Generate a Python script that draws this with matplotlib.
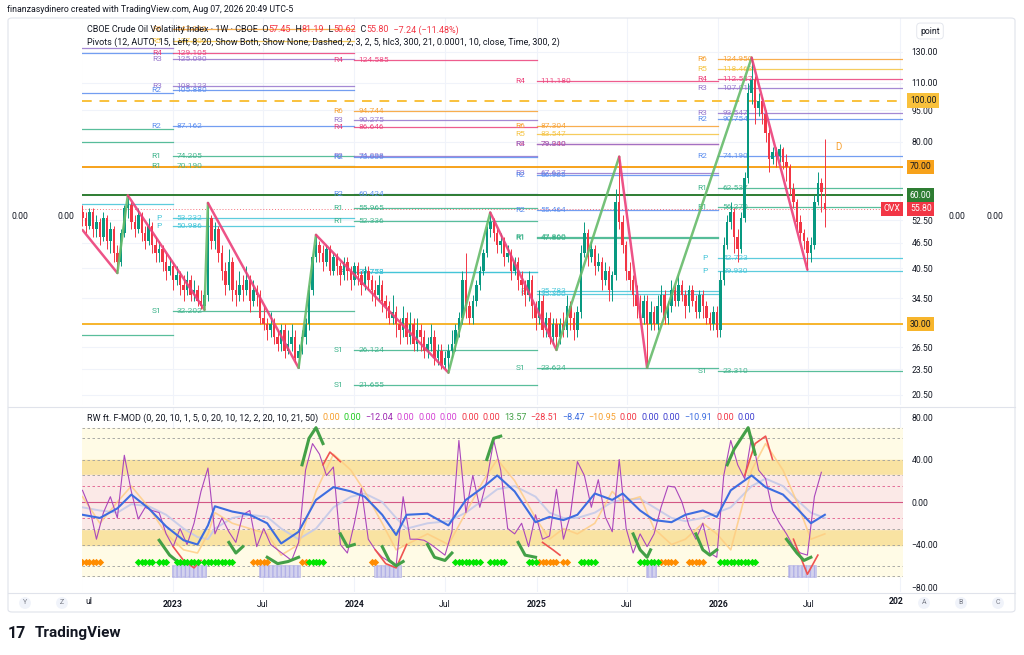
import numpy as np
import matplotlib
matplotlib.use("Agg")
import matplotlib.pyplot as plt
import matplotlib.dates as mdates
from matplotlib.patches import Rectangle, FancyBboxPatch
from matplotlib.lines import Line2D
from matplotlib.ticker import NullLocator

plt.rcParams['font.family'] = ['Roboto', 'DejaVu Sans']

# ---------------- data (weekly OVX candles, Jul 2022 -> Aug 2026) ----------------
start_date = '2022-07-04'

opens = [55, 53, 51, 55, 50, 52, 48, 53, 47, 50,
         44, 42, 49, 56, 57, 52, 50, 54, 49, 47,
         51, 46, 44, 45, 42, 40, 41, 38, 39, 37,
         36, 38, 35, 36, 34, 33, 35, 53, 47, 50,
         44, 40, 37, 42, 36, 35, 37, 36, 38, 34,
         36, 35, 31, 30, 29, 30, 28, 27, 29, 26,
         27, 28, 25, 26, 28, 30, 36, 43, 46, 44,
         42, 45, 40, 43, 41, 39, 42, 40, 38, 41,
         39, 37, 40, 38, 36, 35, 37, 34, 33, 31,
         32, 30, 29, 31, 28, 30, 27, 29, 28, 26,
         27, 28, 25, 26, 24, 25, 26, 27, 29, 31,
         38, 33, 31, 34, 37, 40, 44, 50, 52, 49,
         46, 47, 43, 44, 40, 42, 38, 37, 35, 38,
         33, 31, 34, 29, 31, 28, 30, 28, 30, 29,
         33, 31, 29, 32, 44, 49, 43, 45, 41, 42,
         38, 40, 36, 39, 58, 52, 46, 40, 38, 35,
         33, 31, 34, 30, 32, 30, 33, 35, 31, 33,
         36, 34, 37, 35, 33, 36, 34, 32, 35, 33,
         31, 30, 32, 29, 38, 46, 52, 55, 48, 45,
         53, 66, 104, 112, 96, 100, 93, 84, 73, 76,
         74, 77, 72, 70, 62, 58, 52, 49, 47, 44,
         46, 58, 64, 57.45]

closes = [53, 51, 55, 50, 52, 48, 53, 47, 50, 44,
          42, 49, 56, 57, 52, 50, 54, 49, 47, 51,
          46, 44, 45, 42, 40, 41, 38, 39, 37, 36,
          38, 35, 36, 34, 33, 35, 53, 47, 50, 44,
          40, 37, 42, 36, 35, 37, 36, 38, 34, 36,
          35, 31, 30, 29, 30, 28, 27, 29, 26, 27,
          28, 25, 26, 28, 30, 36, 43, 46, 44, 42,
          45, 40, 43, 41, 39, 42, 40, 38, 41, 39,
          37, 40, 38, 36, 35, 37, 34, 33, 31, 32,
          30, 29, 31, 28, 30, 27, 29, 28, 26, 27,
          28, 25, 26, 24, 25, 26, 27, 29, 31, 38,
          33, 31, 34, 37, 40, 44, 50, 52, 49, 46,
          47, 43, 44, 40, 42, 38, 37, 35, 38, 33,
          31, 34, 29, 31, 28, 30, 28, 30, 29, 33,
          31, 29, 32, 44, 49, 43, 45, 41, 42, 38,
          40, 36, 39, 58, 52, 46, 40, 38, 35, 33,
          31, 34, 30, 32, 30, 33, 35, 31, 33, 36,
          34, 37, 35, 33, 36, 34, 32, 35, 33, 31,
          30, 32, 29, 38, 46, 52, 55, 48, 45, 53,
          66, 104, 112, 96, 100, 93, 84, 73, 76, 74,
          77, 72, 70, 62, 58, 52, 49, 47, 44, 46,
          58, 64, 61, 55.80]

highs = [57, 55, 56, 56, 54, 53, 55, 54, 52, 51,
         46, 50, 57, 60, 58, 54, 56, 55, 51, 53,
         52, 48, 47, 46, 44, 43, 42, 41, 40, 39,
         40, 39, 38, 37, 36, 36, 57.6, 54, 52, 51,
         46, 42, 45, 43, 38, 40, 39, 41, 39, 38,
         37, 36, 33, 31, 32, 31, 29, 30, 30, 29,
         30, 29, 27, 29, 31, 37, 44, 48.5, 47, 46,
         46, 46, 44, 44, 42, 43, 43, 41, 42, 42,
         40, 41, 41, 39, 38, 39, 38, 35, 34, 35,
         33, 31, 33, 32, 32, 31, 31, 30, 29, 28,
         30, 29, 27, 27, 26, 27, 29, 30, 32, 40,
         44, 34, 35, 38, 41, 45, 51, 54.7, 53, 50,
         49, 48, 46, 45, 43, 43, 40, 38, 40, 39,
         34, 36, 35, 32, 32, 31, 31, 31, 32, 35,
         34, 32, 33, 46, 52, 50, 47, 46, 44, 43,
         42, 41, 40, 62, 73.9, 54, 47, 42, 39, 37,
         35, 35, 35, 34, 33, 35, 37, 36, 34, 38,
         37, 39, 38, 36, 37, 37, 35, 36, 36, 34,
         32, 33, 33, 40, 48, 54, 58, 56, 50, 55,
         68, 110, 126, 114, 104, 102, 95, 86, 78, 78,
         79, 78, 75, 71, 64, 59, 54, 50, 48, 48,
         60, 68, 66, 81.19]

lows = [51, 49, 50, 48, 48, 46, 47, 45, 44, 42,
        39.5, 41, 48, 53, 50, 48, 49, 47, 45, 46,
        44, 42, 42, 40, 38, 39, 36, 37, 35, 34,
        35, 34, 34, 33, 32.5, 32.4, 34, 45, 45, 42,
        38, 35, 36, 34, 33, 34, 34, 35, 32, 33,
        33, 30, 29, 27.5, 28, 27, 26, 26, 25, 25.5,
        26, 24.5, 23.7, 25.5, 27, 29, 35, 42, 42, 40,
        41, 39, 39, 39, 37, 38, 38, 36, 37, 37,
        35, 36, 36, 34, 33, 34, 32, 31, 30, 30,
        28, 27, 28, 27, 27, 26, 26, 26, 25, 25,
        26, 24, 24, 23.5, 23.5, 23.1, 25, 26, 28, 30,
        31, 30, 30, 33, 36, 39, 43, 48, 47, 44,
        44, 41, 42, 38, 39, 36, 35, 33, 34, 31,
        29, 30, 28, 28, 27, 27, 26.1, 27, 28, 28,
        29, 27.5, 28, 31, 43, 41, 42, 39, 40, 36,
        37, 34, 34, 38, 50, 44, 38, 36, 33, 31,
        30, 30, 23.7, 29, 29, 29, 32, 30, 30, 32,
        33, 33, 34, 31, 32, 33, 31, 31, 31, 30,
        29, 29, 28, 28, 37, 45, 50, 44, 42, 44,
        52, 64, 98, 88, 92, 88, 80, 68, 71, 70,
        72, 69, 65, 60, 56, 50, 47, 45, 40.2, 42,
        45, 57, 55, 50.62]

# zigzag swing points (week index, price)
zz_weeks = [0, 10, 13, 35, 36, 62, 67, 105, 117, 136, 154, 162, 192, 208]
zz_vals = [49.8, 39.5, 60.0, 32.4, 57.6, 23.7, 48.5, 23.1, 54.7, 26.1, 73.9, 23.7, 126.0, 40.2]

# pivot levels per yearly period
piv_colors = {'R6': '#f7a030', 'R5': '#f5c342', 'R4': '#ec407a', 'R3': '#9575cd',
              'R2': '#5b8def', 'R1': '#3cb38a', 'P': '#40c4d8', 'S1': '#3cb38a', 'S2': '#5b8def'}
periods = ['2022-07-01', '2023-01-01', '2024-01-01', '2025-01-01', '2026-01-01', '2027-01-08']
piv22_names = ['R3', 'R2', 'R2', 'R1', 'R1', 'P', 'S1']
piv22_vals = [132.7, 129.3, 103.9, 85.9, 80.1, 57.2, 28.3]
piv23_names = ['R6', 'R5', 'R4', 'R3', 'R3', 'R2', 'R2', 'R1', 'R1', 'P', 'P', 'S1', 'S2']
piv23_vals = [147.062, 137.5, 129.105, 125.090, 108.123, 105.880, 87.162, 74.205, 70.190,
              53.232, 50.986, 32.202, 19.305]
piv24_names = ['R4', 'R6', 'R3', 'R4', 'R3', 'R2', 'R2', 'R1', 'R1', 'P', 'P', 'S1', 'S1']
piv24_vals = [124.585, 94.744, 90.275, 86.646, 74.098, 73.6, 60.424, 55.965, 52.336,
              39.773, 39.758, 26.124, 21.655]
piv25_names = ['R4', 'R6', 'R5', 'R4', 'R3', 'R3', 'R2', 'R2', 'R1', 'R1', 'P', 'P', 'S1']
piv25_vals = [111.180, 87.304, 83.547, 79.340, 79.0, 67.627, 66.965, 55.464, 47.860,
              47.800, 35.783, 35.3, 23.624]
piv26_names = ['R6', 'R5', 'R4', 'R3', 'R3', 'R2', 'R2', 'R1', 'R1', 'P', 'P', 'S1']
piv26_vals = [124.950, 118.463, 112.537, 107.016, 93.547, 90.754, 74.190, 62.537,
              56.270, 42.723, 39.930, 23.310]

# user horizontal levels
hl_vals = [100, 70, 60, 30]
hl_colors = ['#f9c13c', '#f7a21b', '#2e7d32', '#f7b52c']
hl_text = ['#131722', '#131722', 'white', '#131722']
last_price = 55.80

price_ticks = [130, 110, 95, 80, 52.5, 46.5, 40.5, 34.5, 26.5, 23.5, 20.5]

# oscillator (RW ft. F-MOD)
osc_purple = [11, -5, -35, -10, 5, -15, 44, 10, -16, -5,
              -8, -10, -30, -42, -25, -40, -20, 10, 32, -30,
              -15, -28, -38, -12, -8, -42, -25, -40, -45, -50,
              -55, -38, 30, 55, 45, 25, 33, -40, -48, -20,
              13, -35, -45, -52, -56, -60, 5, -35, -35, -36,
              -40, -45, -50, -28, 58, -10, 25, -5, 20, 58,
              30, -25, -30, -20, -42, -12, -35, -32, 12, -35,
              -12, 38, 25, -5, 21, -14, -28, 40, -25, -48,
              -30, -42, -30, -5, 15, 14, 0, -22, -35, -20,
              -48, -52, 25, 58, 35, 22, 62, 30, 22, -8,
              -20, -30, -42, -48, -50, 5, 28]
smooth_weeks = [0, 5, 10, 14, 19, 24, 29, 33, 36, 38,
                43, 48, 53, 57, 62, 67, 72, 77, 81, 86,
                90, 93, 99, 105, 110, 115, 119, 124, 130, 134,
                138, 142, 147, 152, 155, 160, 164, 169, 173, 178,
                182, 186, 192, 196, 201, 205, 209, 213]
osc_blue = [-12, -15, -6, 7, -6, -23, -36, -40, -22, -4,
            -9, -12, -20, -39, -28, 2, 14, 10, 5, -12,
            -31, -12, -11, -22, 2, 14, 25, 10, -19, -14,
            -17, -12, 8, 2, 8, -8, -17, -19, -12, -8,
            -14, 11, 25, 14, 7, -6, -20, -12]
osc_lav = [-5, -8, -10, -2, -4, -12, -25, -33, -35, -25,
           -15, -12, -14, -25, -35, -25, -5, 5, 8, 0,
           -15, -25, -20, -18, -10, 2, 12, 15, 5, -10,
           -15, -15, -10, 0, 2, 3, -5, -15, -18, -15,
           -10, -5, 15, 22, 15, 2, -10, -15]
osc_orange = [5, -20, 0, 15, -5, -30, -45, -48, -30, -10,
              -20, -25, -30, -50, -40, 10, 45, 30, 10, -20,
              -45, -40, -30, -40, -10, 20, 40, 20, -15, -35,
              -25, -30, -20, 10, 0, 5, -25, -40, -35, -20,
              -30, -45, 30, 55, 30, 0, -35, -30]

green_segs = [([22, 25, 28, 31], [-36, -50, -58, -57]),
              ([42, 44, 46], [-38, -48, -42]),
              ([53, 56, 59, 62], [-52, -58, -56, -52]),
              ([63, 65, 67, 69], [35, 60, 70, 55]),
              ([74, 76, 78], [-30, -42, -40]),
              ([86, 88, 90, 92], [-42, -55, -60, -56]),
              ([99, 101, 104, 106], [-40, -52, -55, -48]),
              ([116, 118, 120], [40, 60, 62]),
              ([125, 127, 130], [-38, -50, -52]),
              ([158, 160, 162, 163], [-30, -45, -52, -45]),
              ([176, 178, 180, 182], [-30, -45, -50, -45]),
              ([185, 187, 189, 191, 193], [35, 50, 60, 70, 45]),
              ([202, 205, 207, 209], [-35, -48, -55, -52])]
red_segs = [([26, 29, 32, 34], [-42, -55, -62, -55]),
            ([69, 71, 74], [35, 47, 38]),
            ([84, 87, 90, 93], [-45, -58, -62, -40]),
            ([132, 135, 137], [-38, -45, -50]),
            ([190, 193, 196, 198], [25, 55, 62, 40]),
            ([204, 208, 211], [-35, -68, -50])]

diam_orange = [0, 1, 2, 3, 4, 5, 49, 50, 51, 52, 53, 63, 64, 83, 84,
               131, 132, 133, 134, 135, 136, 138, 139, 166, 167, 168, 169, 170,
               174, 175, 176, 177, 178]
diam_green = [16, 17, 18, 19, 20, 22, 23, 24, 27, 28, 29, 30, 31, 32, 33,
              35, 36, 37, 38, 39, 40, 41, 42, 43, 65, 66, 67, 68, 69,
              107, 108, 109, 110, 111, 112, 113, 114, 117, 118, 119, 120, 121,
              128, 129, 130, 143, 144, 145, 146, 147, 160, 161, 162, 163, 164, 165,
              183, 184, 185, 186, 187, 188, 189, 190, 191, 192, 193]
box_start = [26, 51, 84, 162, 203]
box_end = [35, 62, 91, 164, 210]

# ---------------- figure ----------------
W, H = 1024, 655
fig = plt.figure(figsize=(W / 100, H / 100), dpi=100)
fig.patch.set_facecolor('white')
renderer = fig.canvas.get_renderer()


def box(l, t, r, b):
    return [l / W, 1 - b / H, (r - l) / W, (b - t) / H]


def ftext(x, y, s, **kw):
    kw.setdefault('fontsize', 6.2)
    kw.setdefault('color', '#131722')
    kw.setdefault('va', 'center')
    return fig.text(x / W, 1 - y / H, s, **kw)


def seq_text(x, y, parts, gap=0, fs=6.5):
    # write coloured pieces one after another on one line
    for s, cc in parts:
        t = ftext(x, y, s, fontsize=fs, color=cc)
        x += t.get_window_extent(renderer=renderer).width + gap


fig.patches.append(FancyBboxPatch((8 / W, 1 - 612 / H), 1007 / W, 594 / H,
                                  boxstyle='round,pad=0,rounding_size=0.004',
                                  transform=fig.transFigure, fill=False,
                                  edgecolor='#e0e3eb', linewidth=0.8))
for yy in [406.5, 593]:
    fig.add_artist(Line2D([8 / W, 1015 / W], [1 - yy / H, 1 - yy / H],
                          transform=fig.transFigure, color='#e0e3eb', lw=0.8))

ax = fig.add_axes(box(82, 18, 903, 405))
ax2 = fig.add_axes(box(82, 408, 903, 592), sharex=ax)

t0 = mdates.date2num(np.datetime64(start_date))
n = len(closes)
xs = t0 + 7 * np.arange(n)
o = np.array(opens, float)
c = np.array(closes, float)
hi = np.array(highs, float)
lo = np.array(lows, float)
up = c >= o
col = np.where(up, '#089981', '#f23645')

ax.set_yscale('log')
ax.set_ylim(19.4, 156)
xl = (mdates.date2num(np.datetime64('2022-07-03')), mdates.date2num(np.datetime64('2027-01-07')))
ax.set_xlim(*xl)

# grid
grid_dates = ['2022-07-01', '2023-01-01', '2023-07-01', '2024-01-01', '2024-07-01',
              '2025-01-01', '2025-07-01', '2026-01-01', '2026-07-01', '2027-01-01']
gx = [mdates.date2num(np.datetime64(d)) for d in grid_dates]
for g in gx:
    ax.axvline(g, color='#f0f3fa', lw=0.8, zorder=0)
    ax2.axvline(g, color='#f0f3fa', lw=0.8, zorder=0)
for pt in price_ticks + [60, 70, 30]:
    ax.axhline(pt, color='#f0f3fa', lw=0.8, zorder=0)

# pivot levels
pnum = [mdates.date2num(np.datetime64(d)) for d in periods]
all_piv = [(piv22_names, piv22_vals), (piv23_names, piv23_vals), (piv24_names, piv24_vals),
           (piv25_names, piv25_vals), (piv26_names, piv26_vals)]
for pi, (names, vals) in enumerate(all_piv):
    x0, x1 = pnum[pi], pnum[pi + 1]
    for nm, v in zip(names, vals):
        cc = piv_colors[nm]
        ax.plot([x0, x1], [v, v], color=cc, lw=0.9, alpha=0.85, zorder=1)
        if pi > 0:
            ax.annotate(nm, (x0, v), xytext=(-8, 0), textcoords='offset points',
                        ha='right', va='center', fontsize=6.0, color=cc,
                        annotation_clip=True)
            ax.annotate(f'{v:.3f}', (x0, v), xytext=(3, 0), textcoords='offset points',
                        ha='left', va='center', fontsize=6.0, color=cc, alpha=0.9,
                        annotation_clip=True)

# user levels
for v, cc in zip(hl_vals, hl_colors):
    if v == 100:
        ax.axhline(v, color=cc, lw=1.4, ls=(0, (5, 4)), zorder=2)
    else:
        ax.axhline(v, color=cc, lw=1.4, zorder=2)
ax.axhline(last_price, color='#f23645', lw=0.7, ls=(0, (1, 2)), alpha=0.7, zorder=2)

# candles
ax.vlines(xs, lo, hi, color=col, lw=0.7, zorder=3)
ax.bar(xs, np.maximum(np.abs(c - o), 0.25), bottom=np.minimum(o, c), width=5.0,
       color=col, edgecolor=col, linewidth=0, zorder=4)

# zigzag
zx = t0 + 7 * np.array(zz_weeks)
for k in range(len(zz_weeks) - 1):
    rising = zz_vals[k + 1] > zz_vals[k]
    ax.plot(zx[k:k + 2], zz_vals[k:k + 2], color='#66bb6a' if rising else '#ec407a',
            lw=1.8, alpha=0.9, zorder=5, solid_capstyle='round')

# right price scale
ax.yaxis.tick_right()
ax.set_yticks(price_ticks)
ax.set_yticklabels([f'{p:.2f}' for p in price_ticks])
ax.yaxis.set_minor_locator(NullLocator())
ax.tick_params(axis='y', length=0, pad=6, labelsize=6.2, labelcolor='#131722')
ax.tick_params(axis='x', length=0, labelbottom=False)
for s in ax.spines.values():
    s.set_visible(False)

for v, cc, tc in zip(hl_vals, hl_colors, hl_text):
    ax.annotate(f'{v:.2f}', (1.0, v), xycoords=('axes fraction', 'data'),
                xytext=(5, 0), textcoords='offset points', ha='left', va='center',
                fontsize=6.2, color=tc,
                bbox=dict(boxstyle='square,pad=0.3', fc=cc, ec='none'))
ax.annotate(f'{last_price:.2f}', (1.0, last_price), xycoords=('axes fraction', 'data'),
            xytext=(5, 0), textcoords='offset points', ha='left', va='center',
            fontsize=6.2, color='white', bbox=dict(boxstyle='square,pad=0.3', fc='#f23645', ec='none'))
ax.annotate('OVX', (1.0, last_price), xycoords=('axes fraction', 'data'),
            xytext=(-2, 0), textcoords='offset points', ha='right', va='center',
            fontsize=6.2, color='white', bbox=dict(boxstyle='square,pad=0.3', fc='#f23645', ec='none'))
ax.annotate('D', (t0 + 7 * 217, 78), fontsize=7, color='#f7a030', ha='center', va='center')

# ---------------- oscillator panel ----------------
ax2.set_ylim(-84.7, 88.5)
ax2.axhspan(40, 70, color='#fffbe6', zorder=0)
ax2.axhspan(-70, -40, color='#fffbe6', zorder=0)
ax2.axhspan(25, 40, color='#f9e3a2', zorder=0)
ax2.axhspan(-40, -25, color='#f9e3a2', zorder=0)
ax2.axhspan(-25, 25, color='#fbe9e7', zorder=0)
for lv in [70, 60, 40, 25, -25, -40, -60, -70]:
    ax2.axhline(lv, color='#9e9e9e', lw=0.6, ls=(0, (3, 3)), zorder=1)
for lv in [15, -15]:
    ax2.axhline(lv, color='#e05a8a', lw=0.6, ls=(0, (3, 3)), zorder=1)
ax2.axhline(0, color='#c2185b', lw=0.8, alpha=0.7, zorder=1)

sw = t0 + 7 * np.array(smooth_weeks)
ax2.plot(sw, osc_lav, color='#c5cae9', lw=1.4, alpha=0.9, zorder=2)
ax2.plot(sw, osc_orange, color='#ffcc80', lw=1.2, alpha=0.8, zorder=2)
pk = t0 + 7 * np.arange(0, 2 * len(osc_purple), 2)
ax2.plot(pk, osc_purple, color='#ab47bc', lw=0.8, zorder=3)
ax2.plot(sw, osc_blue, color='#3d6de0', lw=1.5, zorder=4)
for wk, vv in red_segs:
    ax2.plot(t0 + 7 * np.array(wk), vv, color='#ef5350', lw=1.2, zorder=5)
for wk, vv in green_segs:
    ax2.plot(t0 + 7 * np.array(wk), vv, color='#43a047', lw=2.2, zorder=6)

for b0, b1 in zip(box_start, box_end):
    ax2.add_patch(Rectangle((t0 + 7 * b0 - 3, -71), 7 * (b1 - b0) + 6, 12,
                            facecolor='#c9c8f0', edgecolor='#a9a8e6', hatch='||||',
                            lw=0.4, alpha=0.8, zorder=2))
ax2.scatter(t0 + 7 * np.array(diam_orange), np.full(len(diam_orange), -56), marker='D',
            s=14, color='#ff8c00', linewidths=0, zorder=7)
ax2.scatter(t0 + 7 * np.array(diam_green), np.full(len(diam_green), -56), marker='D',
            s=14, color='#00e600', linewidths=0, zorder=7)

ax2.yaxis.tick_right()
osc_ticks = [80, 40, 0, -40, -80]
ax2.set_yticks(osc_ticks)
ax2.set_yticklabels([f'{t:.2f}'.replace('-', '\u2212') for t in osc_ticks])
ax2.tick_params(axis='y', length=0, pad=6, labelsize=6.2, labelcolor='#131722')
for s in ax2.spines.values():
    s.set_visible(False)

tick_dates = ['2023-01-01', '2023-07-01', '2024-01-01', '2024-07-01', '2025-01-01',
              '2025-07-01', '2026-01-01', '2026-07-01']
tick_labels = ['2023', 'Jul', '2024', 'Jul', '2025', 'Jul', '2026', 'Jul']
ax2.set_xticks([mdates.date2num(np.datetime64(d)) for d in tick_dates])
ax2.set_xticklabels(tick_labels)
ax2.tick_params(axis='x', length=0, pad=6, labelsize=6.2, labelcolor='#131722')
for lab in ax2.get_xticklabels():
    if lab.get_text() != 'Jul':
        lab.set_fontweight('bold')
ax2.set_xlim(*xl)

# ---------------- texts ----------------
dark, red = '#131722', '#f23645'
ftext(7, 10, 'finanzasydinero created with TradingView.com, Aug 07, 2026 20:49 UTC-5', fontsize=6.3)
seq_text(87, 30, [('CBOE Crude Oil Volatility Index \u00b7 1W \u00b7 CBOE  O', dark),
                  ('57.45', red), ('  H', dark), ('81.19', red),
                  ('  L', dark), ('50.62', red), ('  C', dark), ('55.80', red),
                  ('  \u22127.24 (\u221211.48%)', red)])
ftext(87, 42, 'Pivots (12, AUTO, 15, Left, 8, 20, Show Both, Show None, Dashed, 2, 3, 2, 5, '
      'hlc3, 300, 21, 0.0001, 10, close, Time, 300, 2)', fontsize=6.5)

osc_vals = [('0.00', '#f7a030'), ('0.00', '#22cc22'), ('\u221212.04', '#9c27b0'),
            ('0.00', '#d442d4'), ('0.00', '#d442d4'), ('0.00', '#d442d4'),
            ('0.00', '#f23645'), ('0.00', '#f23645'), ('13.57', '#43a047'),
            ('\u221228.51', '#f23645'), ('\u22128.47', '#3d6de0'), ('\u221210.95', '#f7a030'),
            ('0.00', '#f23645'), ('0.00', '#3f3fd0'), ('0.00', '#3f3fd0'),
            ('\u221210.91', '#3d6de0'), ('0.00', '#f23645'), ('0.00', '#3f3fd0')]
seq_text(87, 418, [('RW ft. F-MOD (0, 20, 10, 1, 5, 0, 20, 10, 12, 2, 20, 10, 21, 50)', dark)]
         + osc_vals, gap=3.8)

for xx in [20, 66, 957, 995]:
    ftext(xx, 216, '0.00', ha='center')
ftext(930, 31, 'point', ha='center',
      bbox=dict(boxstyle='round,pad=0.4', fc='white', ec='#e0e3eb', lw=0.6))
ftext(85, 602, 'ul')
ftext(896, 602, '202', ha='center', fontweight='bold')
for xx, s in [(25, 'Y'), (62, 'Z'), (924, 'A'), (961, 'B'), (998, 'C')]:
    ftext(xx, 603, s, fontsize=5, color='#787b86', ha='center',
          bbox=dict(boxstyle='circle,pad=0.35', fc='#f0f3fa', ec='none'))

# TradingView logo
ftext(8, 633, '17', fontsize=11.5, fontweight='bold', color='#131722')
ftext(35, 633, 'TradingView', fontsize=11, fontweight='bold', color='#131722')

fig.savefig('out.png', dpi=100)
